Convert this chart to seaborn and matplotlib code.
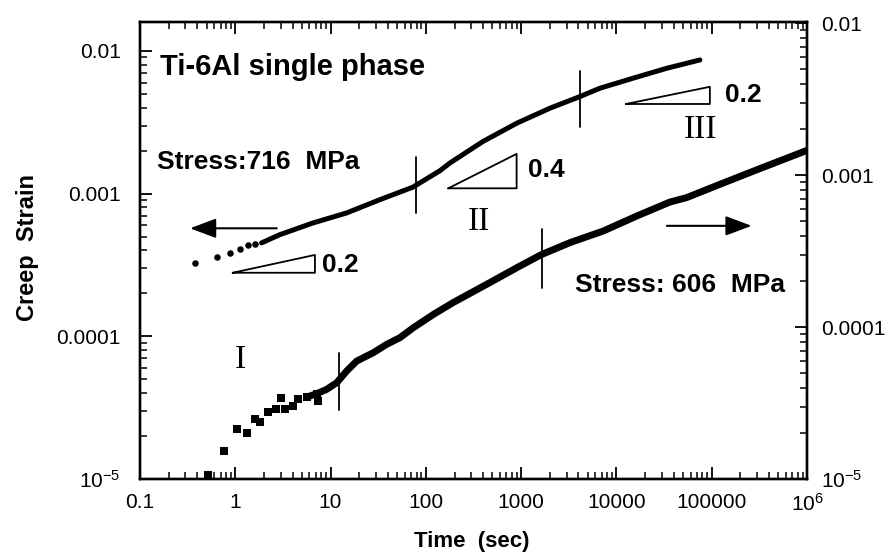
import numpy as np
import matplotlib
matplotlib.use("Agg")
import matplotlib.pyplot as plt
import seaborn as sns
from matplotlib.ticker import LogLocator, NullFormatter

# ---------------- data ----------------
# 716 MPa series (left axis)
t_716_sparse = [0.378, 0.638, 0.879, 1.12, 1.37, 1.61]
e_716_sparse = [3.24e-4, 3.59e-4, 3.85e-4, 4.12e-4, 4.35e-4, 4.45e-4]
t_716 = [1.89, 2.94, 6.53, 14.7, 33, 73, 141, 179, 397, 903, 2005, 4140,
         6710, 14900, 33900, 75200]
e_716 = [4.52e-4, 5.16e-4, 6.23e-4, 7.32e-4, 9.08e-4, 1.11e-3, 1.45e-3,
         1.64e-3, 2.32e-3, 3.12e-3, 3.97e-3, 4.79e-3, 5.48e-3, 6.44e-3,
         7.57e-3, 8.65e-3]

# 606 MPa series (right axis)
t_606_sparse = [0.518, 0.760, 1.05, 1.32, 1.61, 1.82, 2.22, 2.67, 3.02, 3.32,
                4.06, 4.58, 5.61, 7.14, 7.43]
e_606_sparse = [1.06e-5, 1.53e-5, 2.14e-5, 2.02e-5, 2.47e-5, 2.38e-5, 2.78e-5,
                2.88e-5, 3.40e-5, 2.88e-5, 3.02e-5, 3.34e-5, 3.46e-5, 3.64e-5,
                3.26e-5]
t_606 = [5.61, 7.14, 9.10, 11.6, 14.8, 18.8, 28.1, 38.8, 53.5, 73.8, 120, 194,
         435, 971, 1640, 3250, 7260, 16300, 36400, 54500, 122000, 273000,
         520000, 991000]
e_606 = [3.46e-5, 3.64e-5, 3.89e-5, 4.30e-5, 5.14e-5, 5.97e-5, 6.78e-5,
         7.69e-5, 8.51e-5, 9.89e-5, 1.21e-4, 1.45e-4, 1.91e-4, 2.52e-4,
         3.00e-4, 3.59e-4, 4.28e-4, 5.37e-4, 6.64e-4, 7.10e-4, 8.69e-4,
         1.06e-3, 1.24e-3, 1.45e-3]

# stage boundaries (time, strain span)
stage_716 = [(78, 7.28e-4, 1.82e-3), (4140, 2.94e-3, 7.23e-3)]
stage_606 = [(12.3, 2.83e-5, 6.78e-5), (1640, 1.82e-4, 4.39e-4)]

# slope triangles: (t0, t1, e_bottom, e_top, label, label_t, label_e)
slopes = [(0.94, 6.86, 2.79e-4, 3.72e-4, "0.2", 8.1, 3.16e-4),
          (172, 897, 1.09e-3, 1.90e-3, "0.4", 1190, 1.46e-3),
          (12600, 95700, 4.25e-3, 5.61e-3, "0.2", 137700, 4.91e-3)]

x_ticks = [0.1, 1, 10, 100, 1000, 10000, 100000, 1e6]
x_labels = ["0.1", "1", "10", "100", "1000", "10000", "100000",
            r"$\mathregular{10^{6}}$"]
y_ticks = [1e-5, 1e-4, 1e-3, 1e-2]
y_labels = [r"$\mathregular{10^{-5}}$", "0.0001", "0.001", "0.01"]

# ---------------- style ----------------
sns.set_style("white")
plt.rcParams["font.family"] = ["Liberation Sans", "DejaVu Sans"]
plt.rcParams["mathtext.fontset"] = "custom"
plt.rcParams["mathtext.rm"] = "Liberation Sans"
plt.rcParams["mathtext.it"] = "Liberation Sans:italic"
plt.rcParams["mathtext.bf"] = "Liberation Sans:bold"
for k in ["text.color", "axes.labelcolor", "xtick.color", "ytick.color",
          "axes.edgecolor"]:
    plt.rcParams[k] = "black"

fig = plt.figure(figsize=(8.91, 5.57), dpi=100)
ax = fig.add_axes([0.1571, 0.1400, 0.7486, 0.8205])
ax.set_xscale("log")
ax.set_yscale("log")
ax2 = ax.twinx()
ax2.set_yscale("log")

# ---------------- marks ----------------
sns.scatterplot(x=t_716_sparse, y=e_716_sparse, ax=ax, color="black",
                marker="o", s=22, linewidth=0)
sns.lineplot(x=t_716, y=e_716, ax=ax, color="black", lw=3.6,
             sort=False, estimator=None)

sns.scatterplot(x=t_606_sparse, y=e_606_sparse, ax=ax2, color="black",
                marker="s", s=28, linewidth=0)
sns.lineplot(x=t_606, y=e_606, ax=ax2, color="black", lw=5.0,
             sort=False, estimator=None)

for t, e0, e1 in stage_716:
    ax.plot([t, t], [e0, e1], color="black", lw=1.3)
for t, e0, e1 in stage_606:
    ax2.plot([t, t], [e0, e1], color="black", lw=1.3)

for t0, t1, eb, et, lab, lt, le in slopes:
    ax.plot([t0, t1, t1, t0], [eb, et, eb, eb], color="black", lw=1.3)
    ax.text(lt, le, lab, fontsize=19, fontweight="bold", ha="left",
            va="center")

# ---------------- axes ----------------
ax.set_xticks(x_ticks)
ax.set_xticklabels(x_labels)
ax.set_yticks(y_ticks)
ax.set_yticklabels(y_labels)
ax2.set_yticks(y_ticks)
ax2.set_yticklabels(y_labels)
for a in (ax.xaxis, ax.yaxis, ax2.yaxis):
    a.set_minor_locator(LogLocator(base=10, subs=np.arange(2, 10), numticks=100))
    a.set_minor_formatter(NullFormatter())
ax.set_xlim(0.1, 1e6)
ax.set_ylim(1e-5, 0.01596)
ax2.set_ylim(1e-5, 1.016e-2)

ax.tick_params(axis="both", which="both", direction="in", color="black",
               labelsize=15, labelcolor="black")
ax.tick_params(axis="x", which="both", top=True, bottom=True, pad=10)
ax.tick_params(axis="y", which="both", left=True, right=False, pad=14)
ax.tick_params(which="major", length=8.5, width=1.3)
ax.tick_params(which="minor", length=5, width=1.1)
ax2.tick_params(axis="y", which="both", direction="in", left=False,
                right=True, labelsize=15, pad=10, color="black",
                labelcolor="black")
ax2.tick_params(axis="y", which="major", length=8.5, width=1.3)
ax2.tick_params(axis="y", which="minor", length=5, width=1.1)

for a in (ax, ax2):
    for s in a.spines.values():
        s.set_visible(True)
        s.set_linewidth(1.7)
        s.set_color("black")
ax.grid(False)
ax2.grid(False)

# ---------------- texts ----------------
ax.text(0.030, 0.902, "Ti-6Al single phase", transform=ax.transAxes,
        fontsize=21, fontweight="bold", ha="left", va="center")
ax.text(0.0255, 0.694, "Stress:716  MPa", transform=ax.transAxes,
        fontsize=19, fontweight="bold", ha="left", va="center")
ax.text(0.652, 0.4245, "Stress: 606  MPa", transform=ax.transAxes,
        fontsize=19, fontweight="bold", ha="left", va="center")

serif = ["Liberation Serif", "DejaVu Serif"]
ax.text(1.12, 6.8e-5, "I", fontsize=24, family=serif, ha="center", va="center")
ax.text(361, 6.35e-4, "II", fontsize=24, family=serif, ha="center", va="center")
ax.text(77100, 2.79e-3, "III", fontsize=24, family=serif, ha="center",
        va="center")

ax.text(-0.168, 0.507, "Creep  Strain", transform=ax.transAxes, rotation=90,
        fontsize=17, fontweight="bold", ha="center", va="center")
ax.text(0.497, -0.137, "Time  (sec)", transform=ax.transAxes,
        fontsize=16, fontweight="bold", ha="center", va="center")

arrow = dict(arrowstyle="-|>,head_length=0.8,head_width=0.3", lw=1.5,
             color="black", mutation_scale=20, shrinkA=0, shrinkB=0)
ax.annotate("", xy=(0.075, 0.5486), xytext=(0.205, 0.5486),
            xycoords="axes fraction", textcoords="axes fraction",
            arrowprops=arrow)
ax.annotate("", xy=(0.917, 0.554), xytext=(0.790, 0.554),
            xycoords="axes fraction", textcoords="axes fraction",
            arrowprops=arrow)

fig.savefig("out.png", dpi=100)
